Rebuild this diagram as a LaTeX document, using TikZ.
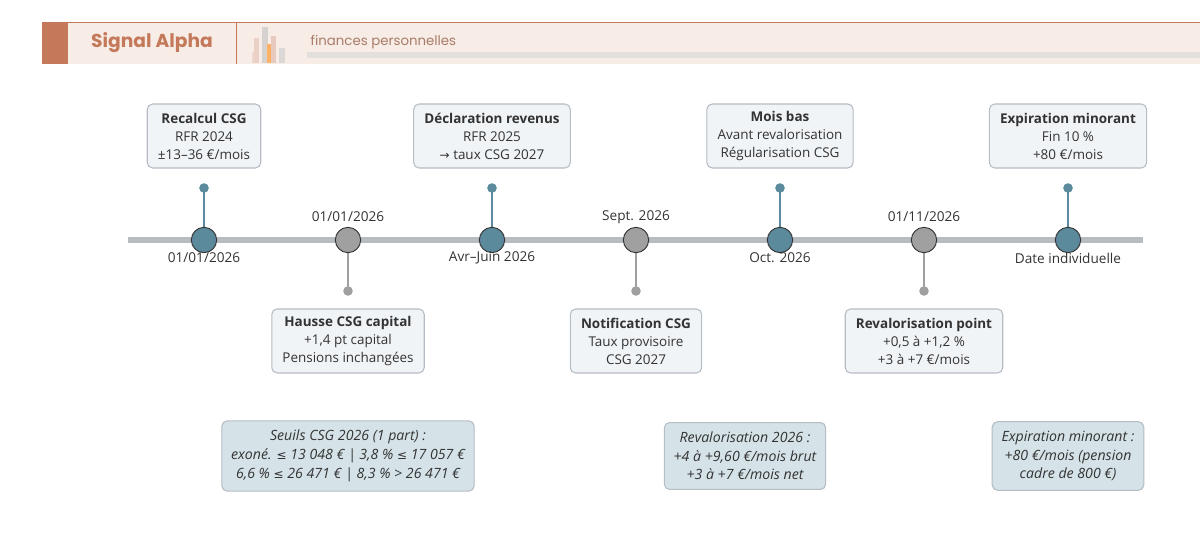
\documentclass[tikz,border=0pt]{standalone}
\usepackage{fontspec}
\setmainfont{Open Sans}
\newfontfamily\titlefont{Poppins}
\newfontfamily\symf{DejaVu Sans}
\newcommand{\leqs}{{\symf\fontsize{9}{10}\selectfont ≤}}
\newcommand{\rarr}{{\symf\fontsize{9}{10}\selectfont →}}
\definecolor{brand}{HTML}{C47A5A}
\definecolor{band}{HTML}{F7ECE6}
\definecolor{teal}{HTML}{5B8A9C}
\definecolor{greyc}{HTML}{A0A0A0}
\definecolor{axis}{HTML}{B8BCC2}
\definecolor{boxf}{HTML}{F1F4F7}
\definecolor{boxd}{HTML}{B5BCC4}
\definecolor{notef}{HTML}{D5E3E8}
\definecolor{txt}{HTML}{333333}
\begin{document}
\begin{tikzpicture}[x=0.75pt,y=-0.75pt,
 ev/.style={draw=boxd,fill=boxf,rounded corners=4pt,line width=0.8pt,align=center,font=\fontsize{10.1}{13.5}\selectfont,text=txt,inner xsep=8pt,minimum height=48pt},
 note/.style={draw=boxd,fill=notef,rounded corners=4pt,line width=0.8pt,align=center,font=\fontsize{10.6}{14}\selectfont\itshape,text=txt,inner xsep=7pt,inner ysep=7pt},
 dt/.style={font=\fontsize{10.2}{12}\selectfont,text=txt},
 tc/.style={circle,draw=txt,line width=0.7pt,fill=teal,minimum size=19pt,inner sep=0},
 gc/.style={circle,draw=txt,line width=0.7pt,fill=greyc,minimum size=19pt,inner sep=0},
 stT/.style={teal,line width=1pt},
 stG/.style={greyc,line width=1pt}]
\useasboundingbox (0,0) rectangle (1200,541);
% header
\fill[band] (42,22) rectangle (1200,64);
\draw[brand,line width=0.6pt] (42,22) -- (1200,22);
\fill[brand] (42,22) rectangle (68,64);
\draw[brand,line width=0.6pt] (236,22) -- (236,64);
\node[font=\titlefont\fontsize{14}{16}\selectfont\bfseries,text=brand] (title) at (152,43) {Signal Alpha};
\fill[brand!30] (252,52) rectangle (258,63);
\fill[brand!35] (254,38) rectangle (259,63);
\fill[brand!15!gray!35] (262,27) rectangle (268,63);
\fill[orange!60] (267,44) rectangle (272,63);
\fill[brand!40] (271,36) rectangle (276,63);
\fill[brand!15!gray!30] (279,48) rectangle (285,63);
\fill[brand!18!gray!25] (307,52) rectangle (1200,58);
\node[anchor=west,font=\titlefont\fontsize{10}{12}\selectfont,text=brand!60!gray] (sub) at (306,42) {finances personnelles};
% axis
\coordinate (aL) at (128,240); \coordinate (aR) at (1143,240);
\draw[axis,line width=5pt] (aL) -- (aR);
% stems
\foreach \i/\x in {1/204,3/492,5/780,7/1068}{
  \coordinate (d\i) at (\x,188);
  \draw[stT] (d\i) -- (\x,240);
  \fill[teal] (d\i) circle (3.6pt);
}
\foreach \i/\x in {2/348,4/636,6/924}{
  \coordinate (d\i) at (\x,291);
  \draw[stG] (d\i) -- (\x,240);
  \fill[greyc] (d\i) circle (3.6pt);
}
\foreach \i/\x/\s in {1/204/tc,2/348/gc,3/492/tc,4/636/gc,5/780/tc,6/924/gc,7/1068/tc}{
  \node[\s] (c\i) at (\x,240) {};
}
% dates
\node[dt] (t1) at (204,258) {01/01/2026};
\node[dt] (t2) at (348,217) {01/01/2026};
\node[dt] (t3) at (492,258) {Avr–Juin 2026};
\node[dt] (t4) at (636,217) {Sept. 2026};
\node[dt] (t5) at (780,258) {Oct. 2026};
\node[dt] (t6) at (924,217) {01/11/2026};
\node[dt] (t7) at (1068,258) {Date individuelle};
% event boxes
\node[ev] (e1) at (204,136) {\textbf{Recalcul CSG}\\RFR 2024\\±13–36 €/mois};
\node[ev] (e3) at (492,136) {\textbf{Déclaration revenus}\\RFR 2025\\\rarr{} taux CSG 2027};
\node[ev] (e5) at (780,136) {\textbf{Mois bas}\\Avant revalorisation\\Régularisation CSG};
\node[ev] (e7) at (1068,136) {\textbf{Expiration minorant}\\Fin 10 \%\\+80 €/mois};
\node[ev] (e2) at (348,341) {\textbf{Hausse CSG capital}\\+1,4 pt capital\\Pensions inchangées};
\node[ev] (e4) at (636,341) {\textbf{Notification CSG}\\Taux provisoire\\CSG 2027};
\node[ev] (e6) at (924,341) {\textbf{Revalorisation point}\\+0,5 à +1,2 \%\\+3 à +7 €/mois};
% notes
\node[note] (n1) at (348,456) {Seuils CSG 2026 (1 part) :\\exoné. \leqs{} 13 048 € | 3,8 \% \leqs{} 17 057 €\\6,6 \% \leqs{} 26 471 € | 8,3 \% > 26 471 €};
\node[note] (n2) at (745,456) {Revalorisation 2026 :\\+4 à +9,60 €/mois brut\\+3 à +7 €/mois net};
\node[note] (n3) at (1068,456) {Expiration minorant :\\+80 €/mois (pension\\cadre de 800 €)};
\end{tikzpicture}
\end{document}
